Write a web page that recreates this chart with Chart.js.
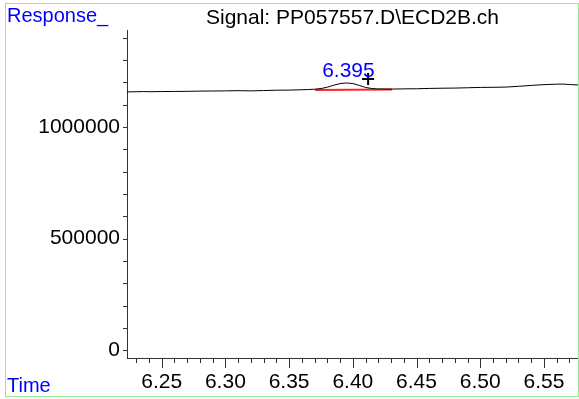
<!DOCTYPE html>
<html>
<head>
<meta charset="utf-8">
<title>Signal: PP057557.D\ECD2B.ch</title>
<script src="https://cdn.jsdelivr.net/npm/chart.js@4.4.1/dist/chart.umd.min.js"></script>
<style>
  html, body { margin: 0; padding: 0; background: #fff; }
  #wrap { width: 579px; height: 399px; }
</style>
</head>
<body>
<div id="wrap"><canvas id="chrom" width="579" height="399"></canvas></div>
<script>
/* Chromatogram: ECD2B signal, 6.22 - 6.58 min. */
var TITLE = "Signal: PP057557.D\\ECD2B.ch";
var Y_TITLE = "Response_";
var X_TITLE = "Time";

var TIMES = [6.2228, 6.23, 6.235, 6.24, 6.25, 6.26, 6.27, 6.28, 6.29, 6.30,
  6.31, 6.32, 6.33, 6.34, 6.35, 6.36, 6.365, 6.37, 6.375, 6.38,
  6.385, 6.39, 6.395, 6.40, 6.405, 6.41, 6.415, 6.42, 6.43, 6.44,
  6.45, 6.46, 6.47, 6.48, 6.49, 6.50, 6.51, 6.52, 6.53, 6.54,
  6.55, 6.56, 6.565, 6.57, 6.5767];
var RESPONSE = [1157000, 1157500, 1158500, 1157800, 1158500, 1159000, 1159500, 1160500, 1161000, 1161500,
  1162500, 1161500, 1163000, 1164500, 1165000, 1166500, 1167500, 1169000, 1172000, 1178000,
  1187000, 1194000, 1197000, 1194500, 1186000, 1177000, 1172000, 1170000, 1169500, 1170500,
  1171000, 1172500, 1173500, 1174000, 1175500, 1177000, 1177500, 1178500, 1182000, 1186000,
  1189500, 1191500, 1192000, 1190000, 1188000];

// integration baseline under the peak, and the peak marker
var BASE_TIMES = [6.3704, 6.4308];
var BASE_VALUES = [1165000, 1168000];
var PEAK_TIME = 6.395;
var PEAK_VALUE = 1197000;
var MARK_TIME = [6.412];
var MARK_VALUE = [1215000];

var X_TICKS = [6.25, 6.30, 6.35, 6.40, 6.45, 6.50, 6.55];
var Y_TICKS = [0, 500000, 1000000];
var X_MIN = 6.2228, X_MAX = 6.5767;
var Y_MIN = -34000, Y_MAX = 1434000;

var FONT = "Liberation Sans, Arial, sans-serif";
var FS = 21;

function pairs(xs, ys) {
  return xs.map(function (x, i) { return { x: x, y: ys[i] }; });
}

var decor = {
  id: "decor",
  afterDraw: function (chart) {
    var ctx = chart.ctx, xs = chart.scales.x, ys = chart.scales.y, a = chart.chartArea;
    ctx.save();
    // frame
    ctx.strokeStyle = "#90ee90";
    ctx.lineWidth = 1;
    ctx.strokeRect(5.5, 3.5, 573, 393);

    ctx.textBaseline = "middle";
    ctx.fillStyle = "#0000ff";
    ctx.textAlign = "left";
    ctx.font = "20px " + FONT;
    ctx.fillText(Y_TITLE, 7, 16);
    ctx.fillText(X_TITLE, 7, 386);
    ctx.font = FS + "px " + FONT;
    ctx.fillStyle = "#000";
    ctx.textAlign = "center";
    ctx.fillText(TITLE, (a.left + a.right) / 2, 18);

    // minor / major ticks
    ctx.strokeStyle = "#333";
    ctx.beginPath();
    var t, px, major;
    for (t = 623; t <= 657; t++) {
      px = Math.round(xs.getPixelForValue(t / 100)) + 0.5;
      major = t % 5 === 0;
      ctx.moveTo(px, a.bottom);
      ctx.lineTo(px, a.bottom + (major ? 10 : 5));
    }
    for (t = 0; t <= 14; t++) {
      px = Math.round(ys.getPixelForValue(t * 100000)) + 0.5;
      ctx.moveTo(a.left, px);
      ctx.lineTo(a.left - 4, px);
    }
    ctx.stroke();

    // peak label
    ctx.fillStyle = "#0000ff";
    ctx.textBaseline = "alphabetic";
    ctx.fillText(PEAK_TIME.toFixed(3), xs.getPixelForValue(PEAK_TIME) + 2, ys.getPixelForValue(PEAK_VALUE) - 6);
    ctx.restore();
  }
};

new Chart(document.getElementById("chrom"), {
  type: "line",
  data: {
    datasets: [
      { data: pairs(TIMES, RESPONSE), borderColor: "#000", borderWidth: 1, pointRadius: 0, tension: 0 },
      { data: pairs(BASE_TIMES, BASE_VALUES), borderColor: "rgba(255,0,0,0.85)", borderWidth: 2, pointRadius: 0 },
      { type: "scatter", data: pairs(MARK_TIME, MARK_VALUE), pointStyle: "cross", pointRadius: 6,
        borderColor: "#000", borderWidth: 2, backgroundColor: "#000" }
    ]
  },
  options: {
    responsive: false,
    animation: false,
    devicePixelRatio: 1,
    layout: { autoPadding: false, padding: { top: 30, right: 1, left: 0, bottom: 0 } },
    plugins: { legend: { display: false }, tooltip: { enabled: false }, title: { display: false } },
    scales: {
      x: {
        type: "linear", min: X_MIN, max: X_MAX,
        grid: { display: false },
        border: { display: true, color: "#333", width: 1 },
        ticks: { color: "#000", font: { family: FONT, size: FS }, padding: 4, maxRotation: 0,
          callback: function (v) { return v.toFixed(2); } },
        afterBuildTicks: function (s) { s.ticks = X_TICKS.map(function (v) { return { value: v }; }); },
        afterFit: function (s) { s.height = 41; s.paddingLeft = 0; s.paddingRight = 0; }
      },
      y: {
        type: "linear", min: Y_MIN, max: Y_MAX,
        grid: { display: false },
        border: { display: true, color: "#333", width: 1 },
        ticks: { color: "#000", font: { family: FONT, size: FS }, padding: -1,
          callback: function (v) { return String(v); } },
        afterBuildTicks: function (s) { s.ticks = Y_TICKS.map(function (v) { return { value: v }; }); },
        afterFit: function (s) { s.width = 127; s.paddingTop = 0; s.paddingBottom = 0; }
      }
    }
  },
  plugins: [decor]
});
</script>
</body>
</html>
